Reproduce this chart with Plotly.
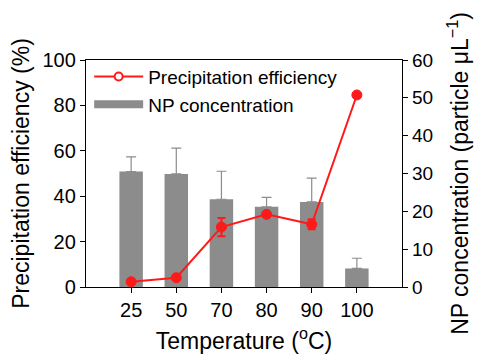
import plotly.graph_objects as go

temps = ["25", "50", "70", "80", "90", "100"]
efficiency = [2.3, 4.1, 26.4, 32.0, 27.6, 84.6]
efficiency_err = [0.5, 0.5, 4.0, 0.8, 2.2, 0.5]
np_conc = [30.5, 29.9, 23.2, 21.2, 22.5, 4.9]
np_conc_err = [3.9, 6.8, 7.4, 2.5, 6.3, 2.7]

FONT = "Liberation Sans, Arial, sans-serif"
RED = "#ff1a1a"
GRAY = "#8c8c8c"

fig = go.Figure()

fig.add_trace(go.Bar(
    x=temps, y=np_conc, name="NP concentration",
    marker=dict(color=GRAY, line=dict(width=0)),
    width=0.52,
    error_y=dict(type="data", symmetric=False, array=np_conc_err,
                 arrayminus=[0]*len(np_conc), color=GRAY, thickness=1.2, width=5),
    yaxis="y", showlegend=False,
))

fig.add_trace(go.Scatter(
    x=temps, y=efficiency, name="Precipitation efficiency",
    mode="lines+markers",
    line=dict(color=RED, width=2),
    marker=dict(color=RED, size=10, line=dict(color=RED, width=1)),
    error_y=dict(type="data", array=efficiency_err, color=RED, thickness=2, width=4),
    yaxis="y2", showlegend=False,
))

# legend entries
fig.add_trace(go.Scatter(
    x=[None], y=[None], name="Precipitation efficiency",
    mode="lines+markers",
    line=dict(color=RED, width=2),
    marker=dict(color="white", size=8, line=dict(color=RED, width=2)),
    yaxis="y2",
))
fig.add_trace(go.Scatter(
    x=[None], y=[None], name="NP concentration",
    mode="lines", line=dict(color=GRAY, width=8), yaxis="y",
))

fig.update_layout(
    width=482, height=354,
    margin=dict(l=78, r=88, t=52, b=75),
    paper_bgcolor="white", plot_bgcolor="white",
    font=dict(family=FONT, color="black", size=20),
    barmode="overlay",
    xaxis=dict(
        type="category", range=[-1, 6], automargin=False,
        showline=True, linecolor="black", linewidth=1.3, mirror=True,
        ticks="outside", ticklen=5, tickcolor="black",
        tickfont=dict(size=20),
        title=dict(text="Temperature (<sup>o</sup>C)", font=dict(size=23), standoff=12),
        showgrid=False, zeroline=False,
    ),
    yaxis=dict(
        side="right", range=[0, 60], dtick=10, automargin=False,
        showline=True, linecolor="black", linewidth=1.3,
        ticks="outside", ticklen=5, tickcolor="black",
        tickfont=dict(size=19),
        title=dict(text="NP concentration (particle \u03bcL<sup>\u22121</sup>)", font=dict(size=23), standoff=19),
        showgrid=False, zeroline=False,
    ),
    yaxis2=dict(
        side="left", overlaying="y", range=[0, 100], dtick=20, automargin=False,
        showline=True, linecolor="black", linewidth=1.3,
        ticks="outside", ticklen=5, tickcolor="black",
        tickfont=dict(size=20),
        title=dict(text="Precipitation efficiency (%)", font=dict(size=23), standoff=6),
        showgrid=False, zeroline=False,
    ),
    legend=dict(
        x=0.01, y=1.01, xanchor="left", yanchor="top",
        bgcolor="rgba(0,0,0,0)", font=dict(size=19),
        traceorder="normal", itemwidth=49, tracegroupgap=0,
    ),
)

fig.write_html("out.html")
